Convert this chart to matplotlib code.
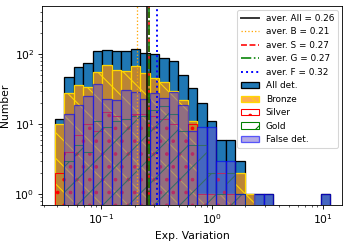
import numpy as np
import matplotlib.pyplot as plt

# histogram bins (log spaced between min and max variation)
var_min = 0.038
var_max = 11.8
n_bins = 29

# counts per bin
all_det = [12, 47, 66, 74, 112, 115, 111, 111, 118, 102, 100, 87, 80, 50, 33,
           20, 11, 6, 6, 3, 1, 1, 1, 0, 0, 0, 0, 0, 1]
bronze = [10, 28, 36, 34, 56, 70, 59, 58, 67, 53, 46, 40, 30, 22, 11,
          1, 1, 1, 1, 2, 1, 0, 0, 0, 0, 0, 0, 0, 0]
silver = [2, 4, 7, 10, 8, 15, 13, 12, 14, 14, 13, 12, 10, 8, 10,
          1, 1, 2, 1, 0, 0, 0, 0, 0, 0, 0, 0, 0, 0]
gold = [0, 3, 5, 4, 11, 9, 11, 12, 13, 13, 16, 18, 14, 8, 5,
        5, 2, 1, 2, 1, 0, 0, 0, 0, 0, 0, 0, 0, 0]
false_det = [0, 14, 19, 25, 38, 23, 22, 31, 29, 23, 28, 24, 29, 19, 8,
             9, 9, 3, 3, 1, 0, 1, 1, 0, 0, 0, 0, 0, 1]

# average values
aver_all = 0.26
aver_b = 0.21
aver_s = 0.27
aver_g = 0.27
aver_f = 0.32

bin_edges = np.logspace(np.log10(var_min), np.log10(var_max), n_bins + 1)
bin_centers = np.sqrt(bin_edges[:-1] * bin_edges[1:])

fig = plt.figure(figsize=(349 / 77, 241 / 77), dpi=77)
ax = fig.add_subplot(111)
fig.subplots_adjust(left=0.12, right=0.98, bottom=0.149, top=0.975)

ax.axvline(aver_all, color="black", lw=1.8, alpha=0.8, label=f"aver. All = {aver_all:.2f}")
ax.axvline(aver_b, color="orange", ls=":", lw=1.2, label=f"aver. B = {aver_b:.2f}")
ax.axvline(aver_s, color="red", ls="--", lw=1.5, label=f"aver. S = {aver_s:.2f}")
ax.axvline(aver_g, color="green", ls="-.", lw=1.5, label=f"aver. G = {aver_g:.2f}")
ax.axvline(aver_f, color="blue", ls=":", lw=1.8, label=f"aver. F = {aver_f:.2f}")

ax.hist(bin_centers, bins=bin_edges, weights=all_det, color="C0",
        edgecolor="black", linewidth=1.2, label="All det.")
ax.hist(bin_centers, bins=bin_edges, weights=bronze,
        facecolor=(1.0, 0.55, 0.0, 0.7), edgecolor="gold", hatch="\\",
        linewidth=1.2, label="Bronze")
ax.hist(bin_centers, bins=bin_edges, weights=silver, facecolor="none",
        edgecolor="red", hatch=".", linewidth=1.0, label="Silver")
ax.hist(bin_centers, bins=bin_edges, weights=gold, facecolor="none",
        edgecolor="green", hatch="/", linewidth=1.0, label="Gold")
ax.hist(bin_centers, bins=bin_edges, weights=false_det,
        facecolor=(0.42, 0.35, 0.80, 0.5), edgecolor=(0.0, 0.0, 1.0, 0.6),
        linewidth=1.2, label="False det.")

ax.set_xscale("log")
ax.set_yscale("log")
ax.set_xlim(0.029, 15)
ax.set_ylim(0.7, 485)
ax.set_xlabel("Exp. Variation")
ax.set_ylabel("Number")
ax.legend(loc="upper right", fontsize="small")

fig.savefig("out.png", dpi=77)
